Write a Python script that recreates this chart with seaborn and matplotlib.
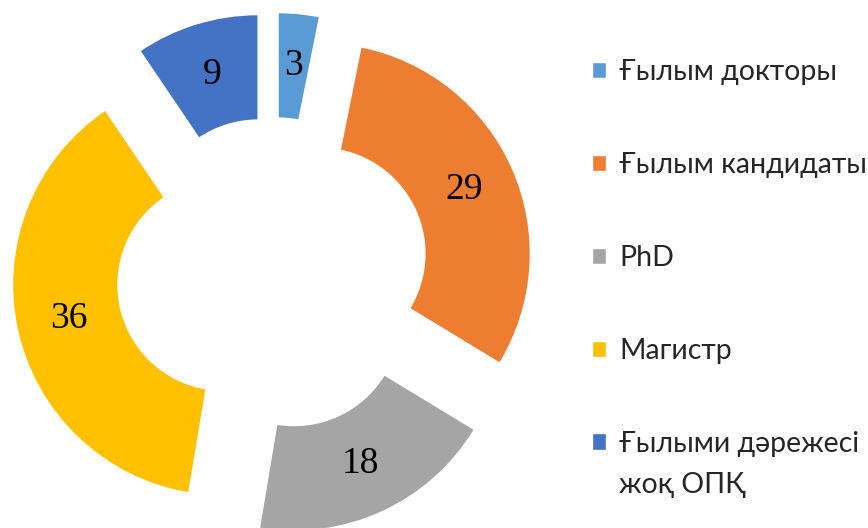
import matplotlib
matplotlib.use("Agg")
import matplotlib.pyplot as plt
import seaborn as sns

# data
categories = ["Ғылым докторы", "Ғылым кандидаты", "PhD", "Магистр", "Ғылыми дәрежесі"]
extra_line = "жоқ ОПҚ"
values = [3, 29, 18, 36, 9]
colors = ["#5B9BD5", "#ED7D31", "#A5A5A5", "#FFC000", "#4472C4"]

sns.set_theme(style="white")
plt.rcParams["font.family"] = ["Lato", "DejaVu Sans"]

fig = plt.figure(figsize=(8.68, 5.28), dpi=100)
ax = fig.add_axes([0, 0, 1, 1])

total = sum(values)
wedges, texts, autotexts = ax.pie(
    values,
    colors=colors,
    startangle=90,
    counterclock=False,
    radius=1.0,
    explode=[0.24] * len(values),
    wedgeprops=dict(width=0.5),
    autopct=lambda p: f"{round(p * total / 100):d}",
    pctdistance=0.75,
    textprops=dict(family="Liberation Serif", fontsize=27, color="black"),
)

# pixel-equal scale: 1 data unit = 211 px, centre at (273, 274) from top-left
s = 211.0
ax.set_aspect("auto")
ax.set_xlim(-273 / s, (868 - 273) / s)
ax.set_ylim(-(528 - 274) / s, 274 / s)
ax.axis("off")

leg = ax.legend(
    wedges, categories,
    loc="upper left",
    bbox_to_anchor=(592 / 868, 1 - 59 / 528),
    bbox_transform=fig.transFigure,
    frameon=False,
    prop=dict(family="Lato", size=20.5),
    handlelength=0.5, handleheight=0.5,
    handletextpad=0.46,
    labelspacing=2.35,
    borderpad=0, borderaxespad=0,
)

fig.text(619 / 868, 1 - 485 / 528, extra_line, family="Lato", fontsize=20.5,
         va="center", ha="left")

fig.savefig("out.png", dpi=100)
